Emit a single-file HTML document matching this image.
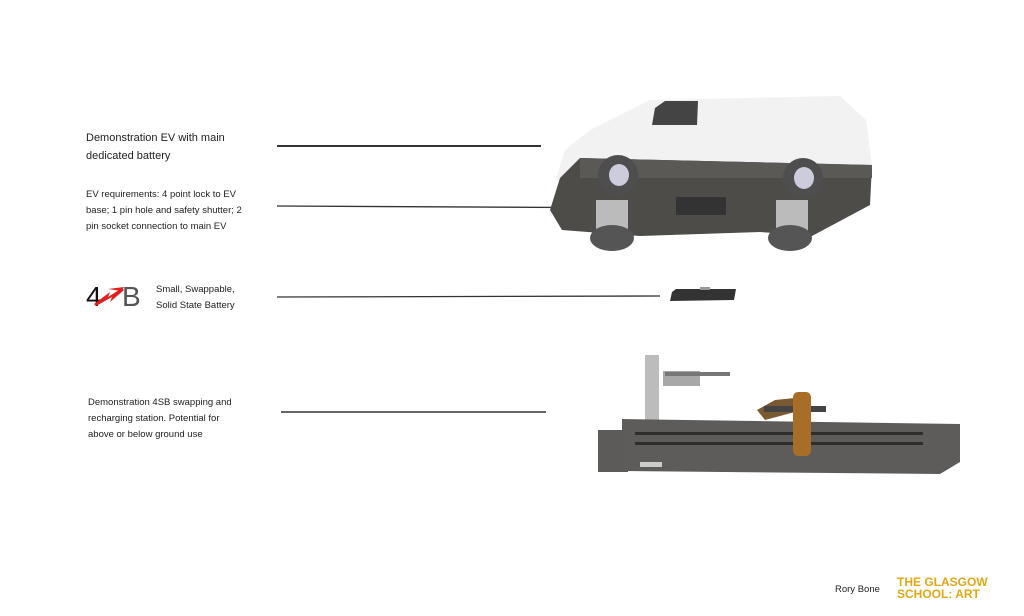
<!DOCTYPE html>
<html><head><meta charset="utf-8"><style>
html,body{margin:0;padding:0;background:#fff;}
body{width:1024px;height:616px;position:relative;overflow:hidden;font-family:"Liberation Sans",sans-serif;color:#222;}
.t{position:absolute;font-size:9.5px;line-height:16px;}
svg{position:absolute;left:0;top:0;}
</style></head><body>
<div class="t" style="left:86px;top:129px;font-size:11px;line-height:18px">Demonstration EV with main<br>dedicated battery</div>
<div class="t" style="left:86px;top:187px;font-size:9.5px;line-height:16px">EV requirements: 4 point lock to EV<br>base; 1 pin hole and safety shutter; 2<br>pin socket connection to main EV</div>
<div class="t" style="left:156px;top:282px;font-size:9.5px;line-height:16px">Small, Swappable,<br>Solid State Battery</div>
<div class="t" style="left:88px;top:395px;font-size:9.5px;line-height:16px">Demonstration 4SB swapping and<br>recharging station. Potential for<br>above or below ground use</div>
<div class="t" style="left:835px;top:582px;font-size:9.5px">Rory Bone</div>
<div class="t" style="left:897px;top:576px;font-size:12px;line-height:12px;font-weight:900;color:#e0a814;letter-spacing:0px">THE GLASGOW<br>SCHOOL: ART</div>
<svg width="1024" height="616" viewBox="0 0 1024 616">
<line x1="277" y1="146" x2="541" y2="146" stroke="#333" stroke-width="2"/>
<line x1="277" y1="206" x2="660" y2="208" stroke="#333" stroke-width="1.3"/>
<line x1="277" y1="297" x2="660" y2="296" stroke="#333" stroke-width="1.3"/>
<line x1="281" y1="412" x2="546" y2="412" stroke="#333" stroke-width="1.5"/>
<!-- 4SB logo -->
<text x="86" y="306" font-size="28" font-family="Liberation Sans,sans-serif" fill="#111">4</text>
<path d="M96 306 L112 297 L110 302 L124 290 L122 288 L108 297 L110 292 L94 304Z" fill="#e02020"/>
<path d="M108 289 L124 287 L121 291Z" fill="#e02020"/>
<text x="122" y="306" font-size="28" font-family="Liberation Sans,sans-serif" fill="#555">B</text>
<!-- van -->
<path d="M556 180 L565 150 L590 130 L650 100 L840 96 L866 120 L872 165 L580 190Z" fill="#f2f2f2"/>
<path d="M655 108 L665 101 L698 101 L697 125 L652 125Z" fill="#444"/>
<path d="M560 178 L580 158 L872 165 L870 205 L812 236 L760 232 L640 236 L562 230 L550 210Z" fill="#4d4c49"/>
<path d="M580 158 L872 165 L872 178 L580 178Z" fill="#5a5956"/>
<rect x="596" y="200" width="32" height="40" fill="#bbb"/>
<rect x="776" y="200" width="32" height="40" fill="#bbb"/>
<ellipse cx="612" cy="238" rx="22" ry="13" fill="#555"/>
<ellipse cx="790" cy="238" rx="22" ry="13" fill="#555"/>
<ellipse cx="618" cy="175" rx="20" ry="20" fill="#4e4e4e"/>
<ellipse cx="619" cy="175" rx="10" ry="11" fill="#ccd"/>
<ellipse cx="803" cy="178" rx="20" ry="20" fill="#4e4e4e"/>
<ellipse cx="804" cy="178" rx="10" ry="11" fill="#ccd"/>
<rect x="676" y="197" width="50" height="18" fill="#333"/>
<!-- battery -->
<path d="M672 292 L676 289 L736 289 L734 300 L670 301Z" fill="#333"/>
<rect x="700" y="287" width="10" height="3" fill="#999"/>
<!-- station -->
<rect x="645" y="355" width="14" height="65" fill="#bcbcbc"/>
<rect x="663" y="371" width="37" height="15" fill="#a8a8a8"/>
<path d="M665 372 L730 372 L730 376 L665 376Z" fill="#777"/>
<rect x="598" y="430" width="30" height="42" fill="#5c5b59"/>
<path d="M622 419 L960 424 L960 462 L940 474 L622 471Z" fill="#5d5c5a"/>
<rect x="635" y="432" width="288" height="3" fill="#2e2e2e"/>
<rect x="635" y="442" width="288" height="3" fill="#2e2e2e"/>
<rect x="640" y="462" width="22" height="5" fill="#ccc"/>
<path d="M757 410 L775 400 L795 398 L795 412 L765 420Z" fill="#7a5a30"/>
<rect x="764" y="406" width="62" height="6" fill="#444"/>
<rect x="793" y="392" width="18" height="64" rx="5" fill="#a86e28"/>
</svg>
</body></html>
